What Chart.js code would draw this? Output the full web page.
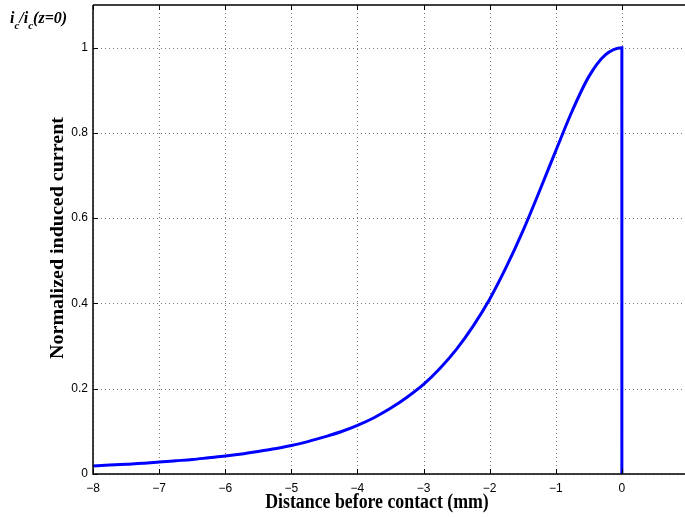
<!DOCTYPE html>
<html>
<head>
<meta charset="utf-8">
<script src="https://cdn.jsdelivr.net/npm/chart.js@4.4.0/dist/chart.umd.min.js"></script>
<style>
  html, body { margin: 0; padding: 0; background: #fff; }
  #wrap { width: 685px; height: 517px; }
</style>
</head>
<body>
<div id="wrap"><canvas id="chart" width="685" height="517"></canvas></div>
<script>
// distance before contact (mm)
const distance = [-8, -7.75, -7.5, -7.25, -7, -6.75, -6.5, -6.25, -6, -5.75, -5.5, -5.25,
  -5, -4.75, -4.5, -4.25, -4, -3.75, -3.5, -3.25, -3, -2.75, -2.5, -2.25,
  -2, -1.75, -1.5, -1.25, -1, -0.75, -0.5, -0.25, 0, 0];
// normalized induced current i_c / i_c(z=0)
const current = [0.019, 0.021, 0.023, 0.025, 0.028, 0.031, 0.034, 0.038, 0.042, 0.047, 0.053, 0.059,
  0.067, 0.076, 0.087, 0.099, 0.114, 0.132, 0.154, 0.180, 0.210, 0.248, 0.293, 0.347,
  0.410, 0.485, 0.569, 0.662, 0.758, 0.852, 0.932, 0.983, 1.0, 0];

const xTicks = [-8, -7, -6, -5, -4, -3, -2, -1, 0];
const yTicks = [0, 0.2, 0.4, 0.6, 0.8, 1];

const labelFont = 'bold 20px "Liberation Serif", "Times New Roman", serif';
const squeeze = 0.89; // glyphs are a little narrow horizontally

// MATLAB-style frame: dotted grid, top border, inward ticks, axis titles
const framePlugin = {
  id: 'frame',
  beforeDatasetsDraw(chart) {
    const { ctx, chartArea: a, scales: { x, y } } = chart;
    ctx.save();
    ctx.strokeStyle = '#7a7a7a';
    ctx.lineWidth = 1;
    ctx.setLineDash([1, 3]);
    xTicks.forEach(v => {
      const px = Math.round(x.getPixelForValue(v)) + 0.5;
      ctx.beginPath(); ctx.moveTo(px, a.top); ctx.lineTo(px, a.bottom); ctx.stroke();
    });
    yTicks.forEach(v => {
      const py = Math.round(y.getPixelForValue(v)) + 0.5;
      ctx.beginPath(); ctx.moveTo(a.left, py); ctx.lineTo(a.right, py); ctx.stroke();
    });
    ctx.restore();
  },
  afterDraw(chart) {
    const { ctx, chartArea: a, scales: { x, y } } = chart;
    ctx.save();
    ctx.strokeStyle = '#000';
    ctx.lineWidth = 1.5;
    ctx.beginPath();
    ctx.moveTo(a.left, a.top); ctx.lineTo(a.right, a.top);
    ctx.moveTo(a.left, a.top); ctx.lineTo(a.left, a.bottom); ctx.lineTo(a.right, a.bottom);
    ctx.stroke();
    ctx.lineWidth = 1;
    xTicks.forEach(v => {
      const px = Math.round(x.getPixelForValue(v)) + 0.5;
      ctx.beginPath();
      ctx.moveTo(px, a.bottom); ctx.lineTo(px, a.bottom - 5);
      ctx.moveTo(px, a.top); ctx.lineTo(px, a.top + 5);
      ctx.stroke();
    });
    yTicks.forEach(v => {
      const py = Math.round(y.getPixelForValue(v)) + 0.5;
      ctx.beginPath(); ctx.moveTo(a.left, py); ctx.lineTo(a.left + 5, py); ctx.stroke();
    });

    ctx.fillStyle = '#000';
    ctx.font = labelFont;
    ctx.textAlign = 'center';
    ctx.textBaseline = 'alphabetic';

    ctx.save();
    ctx.translate(377, 508);
    ctx.scale(squeeze, 1);
    ctx.fillText('Distance before contact (mm)', 0, 0);
    ctx.restore();

    ctx.save();
    ctx.translate(63, 238);
    ctx.scale(squeeze, 1);
    ctx.rotate(-Math.PI / 2);
    ctx.fillText('Normalized induced current', 0, 0);
    ctx.restore();

    // y-axis caption i_c / i_c(z=0)
    ctx.textAlign = 'left';
    const main = 'bold italic 16px "Liberation Serif", "Times New Roman", serif';
    const sub = 'bold italic 11px "Liberation Serif", "Times New Roman", serif';
    let cx = 10;
    const base = 23;
    const put = (t, f, dy) => { ctx.font = f; ctx.fillText(t, cx, base + dy); cx += ctx.measureText(t).width; };
    put('i', main, 0); put('c', sub, 6); put('/', main, 0);
    put('i', main, 0); put('c', sub, 6); put('(z=0)', main, 0);
    ctx.restore();
  }
};

new Chart(document.getElementById('chart'), {
  type: 'line',
  data: {
    datasets: [{
      data: distance.map((d, i) => ({ x: d, y: current[i] })),
      borderColor: '#0000ff',
      borderWidth: 3,
      pointRadius: 0,
      cubicInterpolationMode: 'monotone',
      fill: false
    }]
  },
  options: {
    responsive: false,
    animation: false,
    layout: { padding: { top: 5, right: 0, left: 0, bottom: 0 } },
    plugins: { legend: { display: false }, tooltip: { enabled: false } },
    scales: {
      x: {
        type: 'linear',
        min: -8,
        max: 0.955,
        afterBuildTicks: s => { s.ticks = xTicks.map(v => ({ value: v })); },
        afterFit: s => { s.height = 43; s.paddingLeft = 0; s.paddingRight = 0; },
        grid: { display: false, drawTicks: false },
        border: { display: false },
        ticks: {
          font: { family: '"Liberation Sans", Arial, sans-serif', size: 12 },
          color: '#000',
          padding: 7,
          maxRotation: 0,
          callback: v => v < 0 ? '\u2212' + Math.abs(v) : String(v)
        }
      },
      y: {
        type: 'linear',
        min: 0,
        max: 1.1,
        afterBuildTicks: s => { s.ticks = yTicks.map(v => ({ value: v })); },
        afterFit: s => { s.width = 93; s.paddingTop = 0; s.paddingBottom = 0; },
        grid: { display: false, drawTicks: false },
        border: { display: false },
        ticks: {
          font: { family: '"Liberation Sans", Arial, sans-serif', size: 12 },
          color: '#000',
          padding: 5,
          callback: v => String(v)
        }
      }
    }
  },
  plugins: [framePlugin]
});
</script>
</body>
</html>
